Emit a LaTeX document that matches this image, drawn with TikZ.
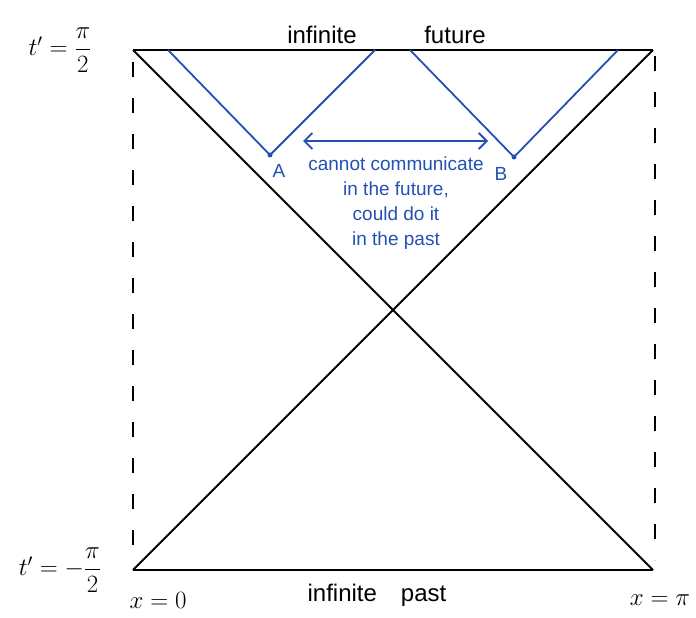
\documentclass[tikz,border=0pt]{standalone}
\usepackage{fontspec}
\setmainfont{Liberation Sans}
\usetikzlibrary{arrows.meta}
\definecolor{blueink}{RGB}{35,80,180}
\begin{document}
\begin{tikzpicture}[x=1pt,y=-1pt,
  edge/.style={line width=1.8pt,black},
  bedge/.style={line width=1.8pt,blueink},
  dashv/.style={line width=1.8pt,black,dash pattern=on 15pt off 21pt},
  lab/.style={font=\fontsize{24}{28}\selectfont,inner sep=0pt},
  blab/.style={font=\fontsize{19}{25}\selectfont,inner sep=0pt,text=blueink,align=center}]
\useasboundingbox (0,0) rectangle (696,618);
\coordinate (TL) at (133,50);
\coordinate (TR) at (653,50);
\coordinate (BL) at (133,570);
\coordinate (BR) at (653,570);
\draw[edge] (TL) -- (TR);
\draw[edge] (BL) -- (BR);
\draw[edge] (TL) -- (BR);
\draw[edge] (TR) -- (BL);
\coordinate (L1) at (133,62);
\coordinate (L2) at (133,556);
\coordinate (R1) at (655,56);
\coordinate (R2) at (655,560);
\draw[dashv] (L1) -- (L2);
\draw[dashv] (R1) -- (R2);
% blue light cones
\coordinate (P1) at (168,50);
\coordinate (A) at (270,155);
\coordinate (P2) at (375,50);
\coordinate (P3) at (410,50);
\coordinate (B) at (514,157);
\coordinate (P4) at (618,50);
\draw[bedge] (P1) -- (A) -- (P2);
\draw[bedge] (P3) -- (B) -- (P4);
\fill[blueink] (A) circle (2.5pt);
\fill[blueink] (B) circle (2.5pt);
\coordinate (AR1) at (303,141);
\coordinate (AR2) at (488,141);
\draw[bedge,{Straight Barb[length=8pt,width=16pt]}-{Straight Barb[length=8pt,width=16pt]}] (AR1) -- (AR2);
\node[blab] (la) at (279,171) {A};
\node[blab] (lb) at (501,174) {B};
\node[blab] (msg) at (396,203) {cannot communicate\\in the future,\\could do it\\in the past};
% labels
\node[lab] (tp) at (60,50) {$t' = \displaystyle\frac{\pi}{2}$};
\node[lab] (tm) at (60,570) {$t' = -\displaystyle\frac{\pi}{2}$};
\node[lab] (x0) at (158,600) {$x = 0$};
\node[lab] (xpi) at (660,600) {$x = \pi$};
\node[lab] (inf1) at (322,35) {infinite};
\node[lab] (fut) at (455,35) {future};
\node[lab] (past) at (377,595) {infinite\quad past};
\end{tikzpicture}
\end{document}
